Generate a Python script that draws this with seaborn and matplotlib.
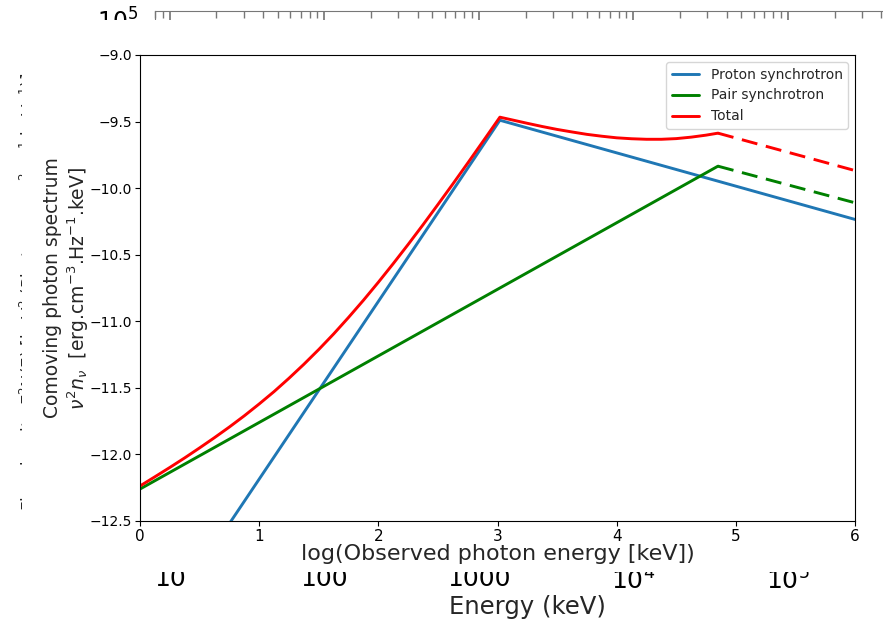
import numpy as np
import pandas as pd
import matplotlib
matplotlib.use("Agg")
import matplotlib.pyplot as plt
import seaborn as sns
from matplotlib.patches import Rectangle
from matplotlib.lines import Line2D

# ---------------- data ----------------
proton_x = [0.0, 3.02, 6.0]
proton_y = [-13.52, -9.49, -10.235]

pair_x = [0.0, 4.85]
pair_y = [-12.26, -9.835]
pair_ext_x = [4.85, 6.0]
pair_ext_y = [-9.835, -10.11]

total_x = [0.0, 0.125, 0.25, 0.375, 0.5, 0.625, 0.75, 0.875, 1.0, 1.125, 1.25,
           1.375, 1.5, 1.625, 1.75, 1.875, 2.0, 2.125, 2.25, 2.375, 2.5, 2.625,
           2.75, 2.9, 3.02, 3.125, 3.25, 3.375, 3.5, 3.625, 3.75, 3.875, 4.0,
           4.125, 4.25, 4.375, 4.5, 4.625, 4.75, 4.85]
total_y = [-12.237, -12.168, -12.098, -12.026, -11.951, -11.874, -11.794,
           -11.710, -11.621, -11.528, -11.428, -11.323, -11.212, -11.095,
           -10.971, -10.842, -10.707, -10.567, -10.423, -10.275, -10.123,
           -9.969, -9.812, -9.621, -9.467, -9.488, -9.513, -9.537, -9.559,
           -9.578, -9.596, -9.610, -9.622, -9.629, -9.633, -9.633, -9.628,
           -9.617, -9.602, -9.587]
total_ext_x = [4.85, 6.0]
total_ext_y = [-9.587, -9.868]

series_labels = ["Proton synchrotron", "Pair synchrotron", "Total"]
series_colors = ["#1f77b4", "green", "red"]

x_ticks = [0, 1, 2, 3, 4, 5, 6]
y_ticks = [-9.0, -9.5, -10.0, -10.5, -11.0, -11.5, -12.0, -12.5]

energy_ticks = [10, 100, 1000, 1e4, 1e5]
energy_labels = ["10", "100", "1000", "$10^4$", "$10^5$"]
bg_ytick = [1e5]
bg_ytick_label = ["$10^5$"]

# ---------------- style ----------------
sns.set_theme(style="ticks")
plt.rcParams["font.family"] = ["DejaVu Sans"]
plt.rcParams["axes.edgecolor"] = "black"
plt.rcParams["axes.linewidth"] = 0.8

W, H = 883, 625
fig = plt.figure(figsize=(W / 100, H / 100), dpi=100)
fig.patch.set_facecolor("white")


def fx(px):
    return px / W


def fy(py):
    return 1 - py / H


# ---------------- background figure remnants ----------------
bg_l, bg_r, bg_t, bg_b = 155, 950, 11, 560
ax_bg = fig.add_axes([fx(bg_l), fy(bg_b), (bg_r - bg_l) / W, (bg_b - bg_t) / H])
ax_bg.set_zorder(0)
ax_bg.set_xscale("log")
ax_bg.set_xlim(10 ** 0.903, 10 ** (1 + (bg_r - 170) / 154.5))
ax_bg.set_yscale("log")
ax_bg.set_ylim(1, 10 ** 5.083)
ax_bg.set_xticks(energy_ticks)
ax_bg.set_xticklabels(energy_labels, fontsize=18)
ax_bg.set_yticks(bg_ytick)
ax_bg.set_yticklabels(bg_ytick_label, fontsize=17)
ax_bg.yaxis.set_minor_locator(matplotlib.ticker.NullLocator())
for s in ax_bg.spines.values():
    s.set_color("#777777")
ax_bg.tick_params(axis="x", which="both", top=True, direction="in", colors="#777777",
                  labelcolor="black", pad=5)
ax_bg.tick_params(axis="x", which="major", length=8)
ax_bg.tick_params(axis="x", which="minor", length=5)
ax_bg.tick_params(axis="y", length=0, pad=12, labelcolor="black")
ax_bg.set_xlabel("Energy (keV)", fontsize=17.5)
ax_bg.xaxis.set_label_coords((527 - bg_l) / (bg_r - bg_l), -(595 - bg_b) / (bg_b - bg_t))
ax_bg.set_ylabel("Flux density E$^2$N(E) [keV$^2$ (Photons cm$^{-2}$ s$^{-1}$ keV$^{-1}$)]",
                 fontsize=12)
ax_bg.yaxis.set_label_coords((42 - bg_l) / (bg_r - bg_l), (bg_b - 292) / (bg_b - bg_t))

# white sheet of the pasted main figure
sheet = Rectangle((fx(22), fy(572)), 1.0, (572 - 20) / H, transform=fig.transFigure,
                  facecolor="white", edgecolor="none", zorder=1)
fig.add_artist(sheet)

# ---------------- main axes ----------------
L, R, T, B = 140, 855, 55, 521
ax = fig.add_axes([fx(L), fy(B), (R - L) / W, (B - T) / H])
ax.set_zorder(2)
ax.set_facecolor("white")

lw = 2.1
dash = (0, (5.5, 3))
sns.lineplot(x=proton_x, y=proton_y, ax=ax, color=series_colors[0], lw=lw, sort=False)
sns.lineplot(x=pair_x, y=pair_y, ax=ax, color=series_colors[1], lw=lw, sort=False)
sns.lineplot(x=pair_ext_x, y=pair_ext_y, ax=ax, color=series_colors[1], lw=lw,
             linestyle=dash, sort=False)
sns.lineplot(x=total_x, y=total_y, ax=ax, color=series_colors[2], lw=lw, sort=False)
sns.lineplot(x=total_ext_x, y=total_ext_y, ax=ax, color=series_colors[2], lw=lw,
             linestyle=dash, sort=False)

ax.set_xlim(0, 6)
ax.set_ylim(-12.5, -9.0)
ax.set_xticks(x_ticks)
ax.set_xticklabels([str(v) for v in x_ticks], fontsize=11)
ax.set_yticks(y_ticks)
ax.set_yticklabels([f"{v:.1f}".replace("-", "\u2212") for v in y_ticks], fontsize=10)
for s in ax.spines.values():
    s.set_visible(True)
    s.set_color("black")
    s.set_linewidth(0.8)
ax.tick_params(axis="both", direction="out", length=3.5, width=0.8, colors="black", pad=2)

ax.set_xlabel("log(Observed photon energy [keV])", fontsize=16, labelpad=0)
ax.set_ylabel("Comoving photon spectrum\n$\\nu^2 n_\\nu$  [erg.cm$^{-3}$.Hz$^{-1}$.keV]",
              fontsize=13.5, linespacing=1.2)
ax.yaxis.set_label_coords((91 - L) / (R - L), 0.5)

handles = [Line2D([], [], color=c, lw=lw) for c in series_colors]
leg = ax.legend(handles, series_labels, loc="upper right", fontsize=10, frameon=True,
                fancybox=True, framealpha=0.8, edgecolor="#cccccc",
                borderaxespad=0.5, handlelength=2.0)

fig.savefig("out.png", dpi=100, facecolor="white")
